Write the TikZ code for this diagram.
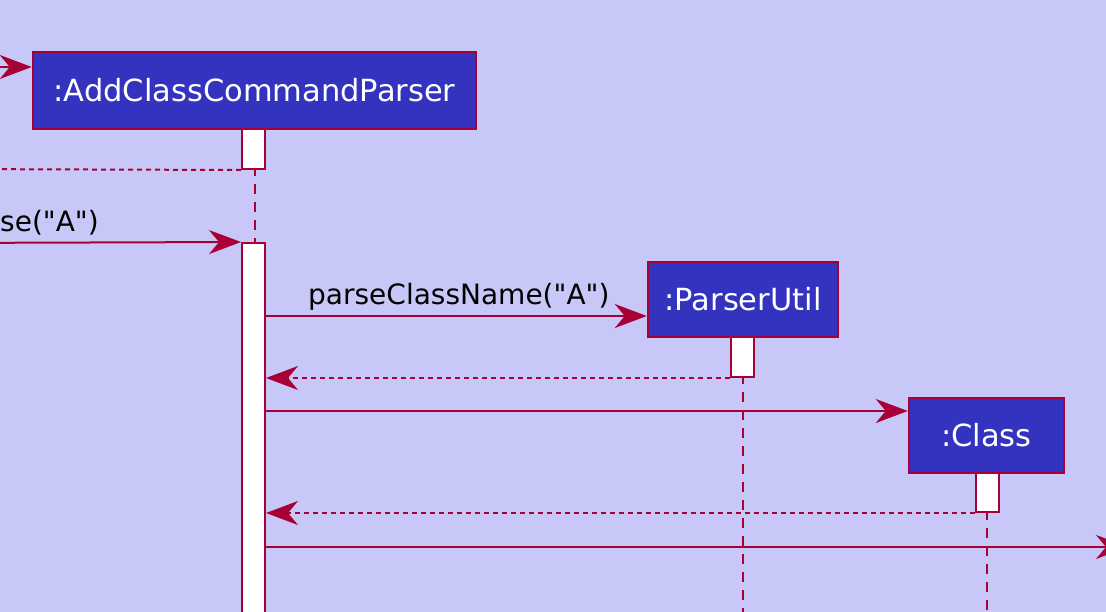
\documentclass[tikz,border=0pt]{standalone}
\usepackage{fontspec}
\setmainfont{DejaVu Sans}[Ligatures=TeXOff]
\usetikzlibrary{arrows.meta}
\definecolor{bg}{RGB}{200,200,248}
\definecolor{boxfill}{RGB}{51,51,192}
\definecolor{border}{RGB}{168,0,54}
\tikzset{
  obj/.style={draw=border, line width=2.5pt, fill=boxfill, text=white,
    font=\fontsize{30.5}{36}\selectfont, inner sep=0pt},
  actbar/.style={draw=border, line width=2pt, fill=white, minimum width=23pt, inner sep=0pt},
  lifeline/.style={draw=border, line width=2pt, dash pattern=on 10pt off 8pt},
  tipstyle/.style={-{Stealth[length=32pt,width=24pt,inset=10pt]}},
  msg/.style={draw=border, line width=2pt, tipstyle},
  ret/.style={draw=border, line width=2pt, dash pattern=on 5pt off 4pt, tipstyle},
  lbl/.style={font=\fontsize{28}{34}\selectfont, inner sep=0pt, text=black}
}
\begin{document}
\begin{tikzpicture}[x=1pt,y=-1pt]
\useasboundingbox (0,0) rectangle (1106,612);
\fill[bg] (0,0) rectangle (1106,612);
\clip (0,0) rectangle (1106,612);

% participants
\node[obj, minimum width=443pt, minimum height=77pt] (acp) at (254.5,90.5) {:AddClassCommandParser};
\node[obj, minimum width=190pt, minimum height=75pt] (pu) at (743,299.5) {:ParserUtil};
\node[obj, minimum width=155pt, minimum height=75pt] (cls) at (986.5,435.5) {:Class};

% lifelines
\coordinate (bot) at (0,660);
\draw[lifeline] (acp.south) -- (acp.south |- bot);
\draw[lifeline] (pu.south) -- (pu.south |- bot);
\draw[lifeline] (cls.south) -- (cls.south |- bot);

% activations
\node[actbar, minimum height=40pt] (a1) at (253.5,149) {};
\node[actbar, minimum height=407pt] (a2) at (253.5,446.5) {};
\node[actbar, minimum height=40pt] (a3) at (742.5,357) {};
\node[actbar, minimum height=39pt] (a4) at (987,492.5) {};

% messages
\coordinate (inA) at (-60,67);
\draw[msg] (inA) -- (inA -| acp.west);

\coordinate (retA) at (-60,169);
\draw[ret] (a1.south west) -- (retA);

\coordinate (inB) at (-60,243);
\draw[msg] (inB) -- (a2.north west);
\node[lbl, anchor=base east] (lblB) at (99,232) {parse("A")};

\coordinate (m1) at (265,316);
\draw[msg] (m1) -- (m1 -| pu.west);
\node[lbl, anchor=base west] (lblC) at (308,305) {parseClassName("A")};

\draw[ret] (a3.south west) -- (a3.south west -| a2.east);

\coordinate (m2) at (265,411);
\draw[msg] (m2) -- (m2 -| cls.west);

\draw[ret] (a4.south west) -- (a4.south west -| a2.east);

\coordinate (m3) at (265,547);
\coordinate (outR) at (1128,547);
\draw[msg] (m3) -- (outR);
\end{tikzpicture}
\end{document}
